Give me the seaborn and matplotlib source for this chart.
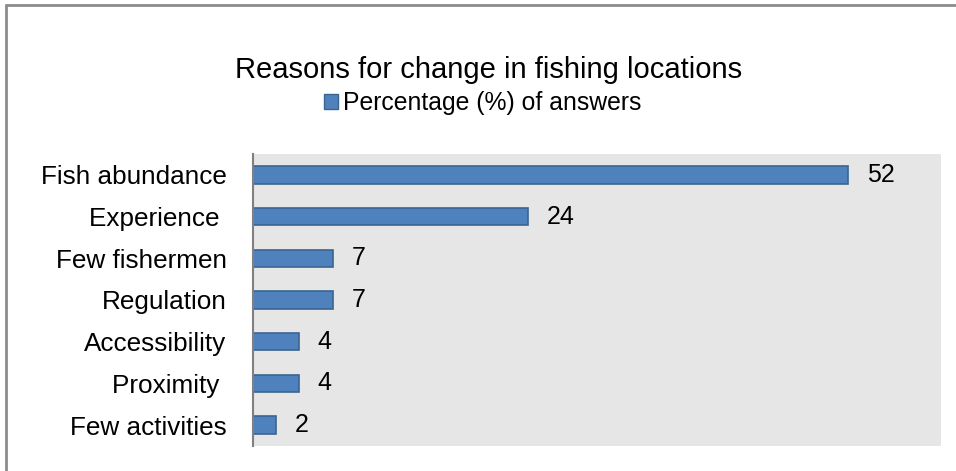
import matplotlib
matplotlib.use("Agg")
import matplotlib.pyplot as plt
import seaborn as sns
import pandas as pd
from matplotlib.patches import Rectangle
from matplotlib.lines import Line2D

reasons = ["Fish abundance", "Experience ", "Few fishermen", "Regulation",
           "Accessibility", "Proximity ", "Few activities"]
percentages = [52, 24, 7, 7, 4, 4, 2]
series_name = "Percentage (%) of answers"
title = "Reasons for change in fishing locations"

df = pd.DataFrame({"reason": reasons, "pct": percentages})

sns.set_theme(style="white")
plt.rcParams["font.family"] = ["Liberation Sans", "DejaVu Sans"]

W, H = 956, 471
fig = plt.figure(figsize=(W / 100, H / 100), dpi=100)
fig.patch.set_facecolor("white")

# outer chart frame (left and top edges)
fig.add_artist(Line2D([6 / W, 6 / W], [0, 1 - 5 / H], transform=fig.transFigure,
                      color="#8c8c8c", lw=2))
fig.add_artist(Line2D([6 / W, 1], [1 - 5 / H, 1 - 5 / H], transform=fig.transFigure,
                      color="#8c8c8c", lw=2))

x0, x1, y0, y1 = 253, 941, 154, 446
ax = fig.add_axes([x0 / W, 1 - y1 / H, (x1 - x0) / W, (y1 - y0) / H])
ax.set_facecolor("#e6e6e6")

bar_color = "#4f81bd"
sns.barplot(data=df, x="pct", y="reason", ax=ax, color=bar_color, width=0.42,
            edgecolor="#3a6593", linewidth=1.2, saturation=1)

ax.set_xlim(0, 60.1)
ax.set_ylim(6.5, -0.5)
ax.set_xlabel("")
ax.set_ylabel("")
ax.set_xticks([])
ax.tick_params(axis="y", length=0, pad=19, labelsize=18.8, labelcolor="black")
for s in ["top", "right", "bottom"]:
    ax.spines[s].set_visible(False)
ax.spines["left"].set_color("#808080")
ax.spines["left"].set_linewidth(1.5)

for c in ax.containers:
    ax.bar_label(c, labels=[str(v) for v in percentages], padding=13.5,
                 fontsize=18, color="black")

fig.text(489 / W, 1 - 70 / H, title, ha="center", va="center", fontsize=21, color="black")

# legend entry
fig.add_artist(Rectangle((324 / W, 1 - 109 / H), 14 / W, 15 / H, transform=fig.transFigure,
                         facecolor=bar_color, edgecolor="#3a6593", lw=1))
fig.text(343 / W, 1 - 103 / H, series_name, ha="left", va="center", fontsize=17.8, color="black")

fig.savefig("out.png", dpi=100)
